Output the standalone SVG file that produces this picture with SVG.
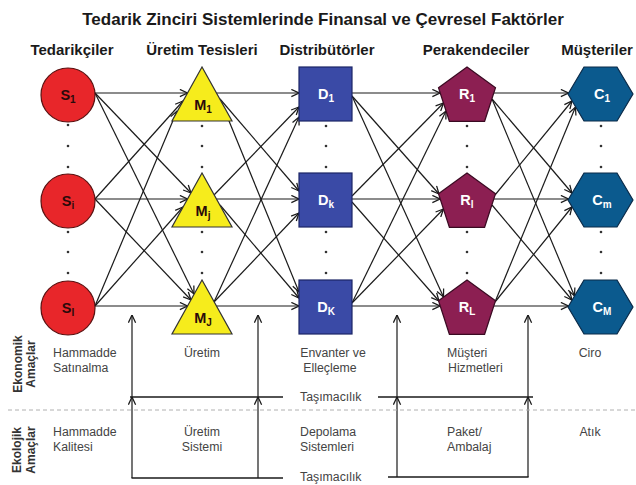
<svg xmlns="http://www.w3.org/2000/svg" width="636" height="485" viewBox="0 0 636 485">
<defs>
<marker id="ah" viewBox="0 0 10 10" refX="9.5" refY="5" markerWidth="9" markerHeight="9" markerUnits="userSpaceOnUse" orient="auto">
<path d="M1,1 L9.5,5 L1,9" fill="none" stroke="#1a1a1a" stroke-width="1.4"/>
</marker>
<style>
.title{font-family:"Liberation Sans",Arial,sans-serif;font-weight:bold;font-size:17px;fill:#1a1a1a}
.hdr{font-family:"Liberation Sans",Arial,sans-serif;font-weight:bold;font-size:15px;fill:#1a1a1a;text-anchor:middle}
.lbl{font-family:"Liberation Sans",Arial,sans-serif;font-weight:bold;font-size:14.5px;text-anchor:middle}
.sub{font-size:10px}
.dk{fill:#2a0a0a}
.wh{fill:#ffffff}
.txt{font-family:"Liberation Sans",Arial,sans-serif;font-size:12.3px;fill:#444}
.side{font-family:"Liberation Sans",Arial,sans-serif;font-weight:bold;font-size:12px;fill:#333;text-anchor:middle}
.s{fill:#e8262a;stroke:#5a1010;stroke-width:1.2}
.m{fill:#f6ec1c;stroke:#333;stroke-width:1.2}
.d{fill:#3a4aa6;stroke:#1c2566;stroke-width:1.2}
.r{fill:#8c1f52;stroke:#3a0a22;stroke-width:1.2}
.c{fill:#0b5a8e;stroke:#0a2a48;stroke-width:1.2}
.cn line{stroke:#1a1a1a;stroke-width:1.2;marker-end:url(#ah)}
.ln{stroke:#1a1a1a;stroke-width:1.3;fill:none}
.dot{fill:#333}
</style>
</defs>
<rect width="636" height="485" fill="#ffffff"/>

<text class="title" x="323" y="25" text-anchor="middle">Tedarik Zinciri Sistemlerinde Finansal ve Çevresel Faktörler</text>

<text class="hdr" x="72" y="55">Tedarikçiler</text>
<text class="hdr" x="202" y="55">Üretim Tesisleri</text>
<text class="hdr" x="327" y="55">Distribütörler</text>
<text class="hdr" x="476" y="55">Perakendeciler</text>
<text class="hdr" x="597" y="55">Müşteriler</text>

<!-- connectors -->
<g id="connectors" class="cn">
<!-- S -> M -->
<line x1="95" y1="93" x2="187.5" y2="93"/>
<line x1="95" y1="93" x2="191" y2="193"/>
<line x1="95" y1="93" x2="194" y2="294"/>
<line x1="95" y1="199" x2="183" y2="101"/>
<line x1="95" y1="199" x2="187.5" y2="199"/>
<line x1="95" y1="199" x2="191" y2="300"/>
<line x1="95" y1="306" x2="177" y2="111"/>
<line x1="95" y1="306" x2="183" y2="207"/>
<line x1="95" y1="306" x2="187.5" y2="306"/>
<!-- M -> D -->
<line x1="216.5" y1="93" x2="299" y2="93"/>
<line x1="220" y1="99" x2="299" y2="191"/>
<line x1="220" y1="99" x2="299" y2="292"/>
<line x1="214" y1="195" x2="299" y2="107"/>
<line x1="216.5" y1="199" x2="299" y2="199"/>
<line x1="220" y1="205" x2="299" y2="298"/>
<line x1="214" y1="302" x2="299" y2="117"/>
<line x1="214" y1="302" x2="299" y2="213"/>
<line x1="216.5" y1="306" x2="299" y2="306"/>
<!-- D -> R -->
<line x1="352" y1="93" x2="440" y2="93"/>
<line x1="352" y1="96" x2="439" y2="194"/>
<line x1="352" y1="96" x2="443.5" y2="297"/>
<line x1="352" y1="196" x2="443.5" y2="103"/>
<line x1="352" y1="199" x2="440" y2="199"/>
<line x1="352" y1="202" x2="439" y2="301"/>
<line x1="352" y1="303" x2="446" y2="111"/>
<line x1="352" y1="303" x2="443.5" y2="209"/>
<line x1="352" y1="306" x2="440" y2="306"/>
<!-- R -> C -->
<line x1="494" y1="93" x2="568.5" y2="93"/>
<line x1="492" y1="99" x2="572" y2="193"/>
<line x1="492" y1="99" x2="574.5" y2="296"/>
<line x1="495" y1="195" x2="572" y2="101"/>
<line x1="494" y1="199" x2="568.5" y2="199"/>
<line x1="492" y1="205" x2="572" y2="300"/>
<line x1="495" y1="302" x2="575.5" y2="107"/>
<line x1="495" y1="302" x2="572" y2="207"/>
<line x1="494" y1="306" x2="568.5" y2="306"/>
<!-- bottom flows -->
<line x1="132" y1="478" x2="132" y2="397"/>
<line x1="132" y1="397" x2="132" y2="315"/>
<line x1="258" y1="478" x2="258" y2="397"/>
<line x1="258" y1="397" x2="258" y2="315"/>
<line x1="397" y1="477" x2="397" y2="397"/>
<line x1="397" y1="397" x2="397" y2="315"/>
<line x1="528" y1="477" x2="528" y2="397"/>
<line x1="528" y1="397" x2="528" y2="315"/>
</g>
<g id="transport-lines">
<line class="ln" x1="130" y1="397" x2="283" y2="397"/>
<line class="ln" x1="131.5" y1="478" x2="283" y2="478"/>
<line class="ln" x1="378" y1="397" x2="533" y2="397"/>
<line class="ln" x1="388" y1="477" x2="528.6" y2="477"/>
<line x1="8" y1="410" x2="636" y2="410" stroke="#b0b0b0" stroke-width="1" stroke-dasharray="4 3"/>
</g>

<!-- dots -->
<g id="dots">
<circle class="dot" cx="68" cy="125" r="1.3"/><circle class="dot" cx="68" cy="146" r="1.3"/><circle class="dot" cx="68" cy="167" r="1.3"/>
<circle class="dot" cx="68" cy="232" r="1.3"/><circle class="dot" cx="68" cy="252" r="1.3"/><circle class="dot" cx="68" cy="273" r="1.3"/>
<circle class="dot" cx="202" cy="126" r="1.3"/><circle class="dot" cx="202" cy="146" r="1.3"/><circle class="dot" cx="202" cy="167" r="1.3"/>
<circle class="dot" cx="202" cy="232" r="1.3"/><circle class="dot" cx="202" cy="252" r="1.3"/><circle class="dot" cx="202" cy="273" r="1.3"/>
<circle class="dot" cx="326" cy="126" r="1.3"/><circle class="dot" cx="326" cy="146" r="1.3"/><circle class="dot" cx="326" cy="167" r="1.3"/>
<circle class="dot" cx="326" cy="232" r="1.3"/><circle class="dot" cx="326" cy="252" r="1.3"/><circle class="dot" cx="326" cy="273" r="1.3"/>
<circle class="dot" cx="467" cy="126" r="1.3"/><circle class="dot" cx="467" cy="146" r="1.3"/><circle class="dot" cx="467" cy="167" r="1.3"/>
<circle class="dot" cx="467" cy="232" r="1.3"/><circle class="dot" cx="467" cy="252" r="1.3"/><circle class="dot" cx="467" cy="273" r="1.3"/>
<circle class="dot" cx="601" cy="126" r="1.3"/><circle class="dot" cx="601" cy="146" r="1.3"/><circle class="dot" cx="601" cy="167" r="1.3"/>
<circle class="dot" cx="601" cy="232" r="1.3"/><circle class="dot" cx="601" cy="252" r="1.3"/><circle class="dot" cx="601" cy="273" r="1.3"/>
</g>

<!-- Suppliers -->
<g id="S1"><circle class="s" cx="68" cy="95" r="27"/><text class="lbl dk" x="68" y="100">S<tspan class="sub" dy="3">1</tspan></text></g>
<g id="Si"><circle class="s" cx="68" cy="201" r="27"/><text class="lbl dk" x="68" y="206">S<tspan class="sub" dy="3">i</tspan></text></g>
<g id="SI"><circle class="s" cx="68" cy="308" r="27"/><text class="lbl dk" x="68" y="313">S<tspan class="sub" dy="3">I</tspan></text></g>

<!-- Manufacturing -->
<g id="M1"><polygon class="m" points="202,67 172,121 232,121"/><text class="lbl dk" x="203" y="110">M<tspan class="sub" dy="3">1</tspan></text></g>
<g id="Mj"><polygon class="m" points="202,173 172,227 232,227"/><text class="lbl dk" x="203" y="216">M<tspan class="sub" dy="3">j</tspan></text></g>
<g id="MJ"><polygon class="m" points="202,280 172,334 232,334"/><text class="lbl dk" x="203" y="323">M<tspan class="sub" dy="3">J</tspan></text></g>

<!-- Distributors -->
<g id="D1"><rect class="d" x="299" y="67" width="53" height="54"/><text class="lbl wh" x="326" y="99">D<tspan class="sub" dy="3">1</tspan></text></g>
<g id="Dk"><rect class="d" x="299" y="173" width="53" height="54"/><text class="lbl wh" x="326" y="205">D<tspan class="sub" dy="3">k</tspan></text></g>
<g id="DK"><rect class="d" x="299" y="280" width="53" height="54"/><text class="lbl wh" x="326" y="312">D<tspan class="sub" dy="3">K</tspan></text></g>

<!-- Retailers -->
<g id="R1"><polygon class="r" points="467,67 495.5,87.7 484.6,121.3 449.4,121.3 438.5,87.7"/><text class="lbl wh" x="467" y="99">R<tspan class="sub" dy="3">1</tspan></text></g>
<g id="Rl"><polygon class="r" points="467,173 495.5,193.7 484.6,227.3 449.4,227.3 438.5,193.7"/><text class="lbl wh" x="467" y="205">R<tspan class="sub" dy="3">l</tspan></text></g>
<g id="RL"><polygon class="r" points="467,280 495.5,300.7 484.6,334.3 449.4,334.3 438.5,300.7"/><text class="lbl wh" x="467" y="312">R<tspan class="sub" dy="3">L</tspan></text></g>

<!-- Customers -->
<g id="C1"><polygon class="c" points="568,94 584,67 617,67 633,94 617,121 584,121"/><text class="lbl wh" x="602" y="99">C<tspan class="sub" dy="3">1</tspan></text></g>
<g id="Cm"><polygon class="c" points="568,200 584,173 617,173 633,200 617,227 584,227"/><text class="lbl wh" x="602" y="205">C<tspan class="sub" dy="3">m</tspan></text></g>
<g id="CM"><polygon class="c" points="568,307 584,280 617,280 633,307 617,334 584,334"/><text class="lbl wh" x="602" y="312">C<tspan class="sub" dy="3">M</tspan></text></g>

<!-- side labels -->
<g id="eko-label">
<text class="side" transform="translate(22,364) rotate(-90)">Ekonomik</text>
<text class="side" transform="translate(35,364) rotate(-90)">Amaçlar</text>
</g>
<g id="ekol-label">
<text class="side" transform="translate(21,450) rotate(-90)">Ekolojik</text>
<text class="side" transform="translate(35,450) rotate(-90)">Amaçlar</text>
</g>

<!-- objective texts -->
<g id="objectives" class="txt">
<text x="53" y="357">Hammadde</text>
<text x="53" y="372">Satınalma</text>
<text x="202" y="357" text-anchor="middle">Üretim</text>
<text x="333" y="357" text-anchor="middle">Envanter ve</text>
<text x="330" y="372" text-anchor="middle">Elleçleme</text>
<text x="447" y="357">Müşteri</text>
<text x="448" y="372">Hizmetleri</text>
<text x="590" y="357" text-anchor="middle">Ciro</text>
<text x="300" y="401">Taşımacılık</text>
<text x="53" y="436">Hammadde</text>
<text x="53" y="451">Kalitesi</text>
<text x="202" y="436" text-anchor="middle">Üretim</text>
<text x="202" y="451" text-anchor="middle">Sistemi</text>
<text x="300" y="436">Depolama</text>
<text x="300" y="451">Sistemleri</text>
<text x="447" y="436">Paket/</text>
<text x="447" y="451">Ambalaj</text>
<text x="590" y="436" text-anchor="middle">Atık</text>
<text x="300" y="481">Taşımacılık</text>
</g>
</svg>
